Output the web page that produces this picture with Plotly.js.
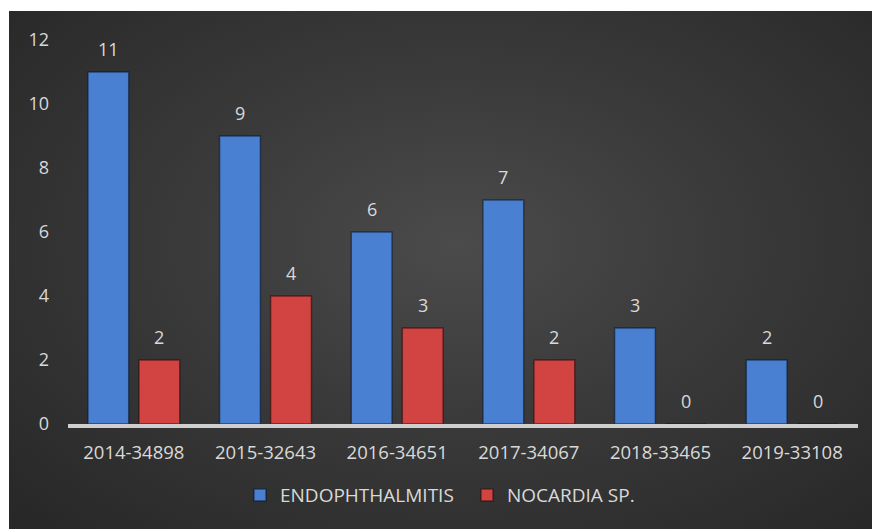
<!DOCTYPE html>
<html>
<head>
<meta charset="utf-8">
<script src="https://cdn.plot.ly/plotly-3.0.1.min.js"></script>
<style>
  html, body { margin: 0; padding: 0; background: #ffffff; }
  #bg { position: absolute; left: 9px; top: 11px; width: 863px; height: 518px;
        background: radial-gradient(ellipse 70% 75% at 52% 45%, #4b4b4b 0%, #3a3a3a 45%, #282828 100%); }
  #chart { position: absolute; left: 0; top: 0; width: 872px; height: 529px; }
</style>
</head>
<body>
<div id="bg"></div>
<div id="chart"></div>
<script>
const categories = ["2014-34898", "2015-32643", "2016-34651", "2017-34067", "2018-33465", "2019-33108"];
const endophthalmitis = [11, 9, 6, 7, 3, 2];
const nocardia = [2, 4, 3, 2, 0, 0];
const seriesNames = ["ENDOPHTHALMITIS", "NOCARDIA SP."];
const yTicks = [0, 2, 4, 6, 8, 10, 12];

const textColor = "#d9d9d9";
const fontFamily = "'Open Sans', 'Noto Sans', sans-serif";

const traces = [
  {
    type: "bar", name: seriesNames[0], x: categories, y: endophthalmitis,
    marker: { color: "#4a80d2", line: { color: "rgba(10,20,40,0.55)", width: 1.5 } },
    hoverinfo: "x+y"
  },
  {
    type: "bar", name: seriesNames[1], x: categories, y: nocardia,
    marker: { color: "#d24442", line: { color: "rgba(40,10,10,0.55)", width: 1.5 } },
    hoverinfo: "x+y"
  }
];

const annotations = [];
categories.forEach((c, i) => {
  annotations.push({ x: c, y: endophthalmitis[i], xref: "x", yref: "y", text: String(endophthalmitis[i]),
    showarrow: false, xshift: -25.5, yshift: 23, yanchor: "middle",
    font: { family: fontFamily, size: 18, color: textColor } });
  annotations.push({ x: c, y: nocardia[i], xref: "x", yref: "y", text: String(nocardia[i]),
    showarrow: false, xshift: 25.5, yshift: 23, yanchor: "middle",
    font: { family: fontFamily, size: 18, color: textColor } });
});

const layout = {
  width: 872, height: 529,
  paper_bgcolor: "rgba(0,0,0,0)", plot_bgcolor: "rgba(0,0,0,0)",
  margin: { l: 68, r: 14, t: 40, b: 105 },
  barmode: "group", bargap: 0.225, bargroupgap: 0.2,
  font: { family: fontFamily, size: 18, color: textColor },
  xaxis: {
    type: "category", showgrid: false, zeroline: false,
    showline: true, linecolor: "#cfcfcf", linewidth: 3.5,
    ticks: "", ticklabelstandoff: 9,
    tickfont: { family: fontFamily, size: 18.5, color: textColor }
  },
  yaxis: {
    range: [0, 12], tickvals: yTicks, showgrid: false, zeroline: false, showline: false,
    ticks: "", ticklabelstandoff: 18,
    tickfont: { family: fontFamily, size: 18, color: textColor }
  },
  legend: {
    orientation: "h", x: 0.2177, xanchor: "left", y: -0.185, yanchor: "middle",
    font: { family: fontFamily, size: 19, color: textColor }, bgcolor: "rgba(0,0,0,0)",
    itemwidth: 30, entrywidth: 182, entrywidthmode: "pixels"
  },
  annotations: annotations,
  showlegend: true
};

Plotly.newPlot("chart", traces, layout, { displayModeBar: false, staticPlot: true });
</script>
</body>
</html>
